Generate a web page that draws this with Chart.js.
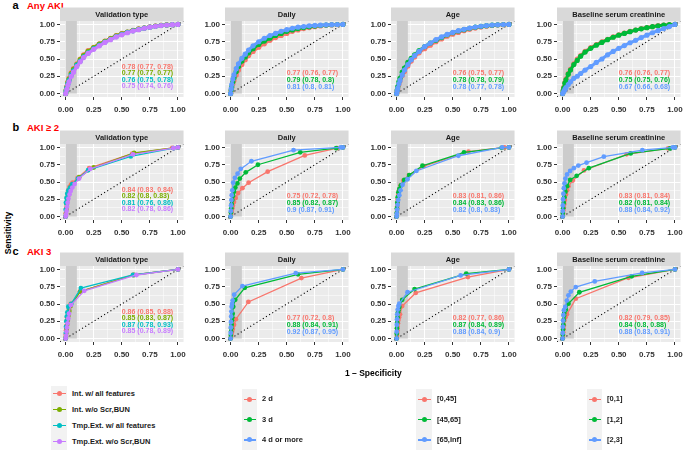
<!DOCTYPE html>
<html lang="en">
<head>
<meta charset="UTF-8">
<title>ROC curves by AKI stage</title>
<script src="https://cdn.jsdelivr.net/npm/chart.js"></script>
<style>
    html, body {
        margin: 0;
        padding: 0;
        width: 684px;
        height: 450px;
        overflow: hidden;
        position: relative;
        background: #fff;
        font-family: "Liberation Sans", Arial, sans-serif;
    }
    canvas { position: absolute; }
    .lbl {
        position: absolute;
        font-weight: bold;
        white-space: nowrap;
        line-height: 1;
        transform: translateY(-50%);
    }
    .tag { font-size: 11px; color: #000; }
    .row { font-size: 9.5px; color: #FF0000; }
    .axt { font-size: 8.5px; color: #000; }
    .keybox { position: absolute; background: #F2F2F2; }
    .keyline { position: absolute; height: 1.4px; }
    .keydot { position: absolute; width: 5px; height: 5px; border-radius: 50%; }
    .ltext { font-size: 7.5px; color: #1A1A1A; }
</style>
</head>
<body>
<script>
const rowTags = ['a', 'b', 'c'];
const rowTitles = ['Any AKI', 'AKI \u2265 2', 'AKI 3'];
const panelTitles = ['Validation type', 'Daily', 'Age', 'Baseline serum creatinine'];
const hue4 = ['#F8766D', '#7CAE00', '#00BFC4', '#C77CFF'];
const hue3 = ['#F8766D', '#00BA38', '#619CFF'];
const tickVals = [0, 0.125, 0.25, 0.375, 0.5, 0.625, 0.75, 0.875, 1];

const legendVal = ['Int. w/ all features', 'Int. w/o Scr,BUN', 'Tmp.Ext. w/ all features', 'Tmp.Ext. w/o Scr,BUN'];
const legendDaily = ['2 d', '3 d', '4 d or more'];
const legendAge = ['[0,45]', '[45,65]', '[65,Inf]'];
const legendBsc = ['[0,1]', '[1,2]', '[2,3]'];

// AUC (95% CI) labels per panel
const aucAny = [
    ['0.78 (0.77, 0.78)', '0.77 (0.77, 0.77)', '0.76 (0.75, 0.78)', '0.75 (0.74, 0.76)'],
    ['0.77 (0.76, 0.77)', '0.79 (0.78, 0.8)', '0.81 (0.8, 0.81)'],
    ['0.76 (0.75, 0.77)', '0.78 (0.78, 0.79)', '0.78 (0.77, 0.78)'],
    ['0.76 (0.76, 0.77)', '0.75 (0.75, 0.76)', '0.67 (0.66, 0.68)']
];
const aucGe2 = [
    ['0.84 (0.83, 0.84)', '0.82 (0.8, 0.83)', '0.81 (0.76, 0.86)', '0.82 (0.78, 0.86)'],
    ['0.75 (0.72, 0.78)', '0.85 (0.82, 0.87)', '0.9 (0.87, 0.91)'],
    ['0.83 (0.81, 0.86)', '0.84 (0.83, 0.86)', '0.82 (0.8, 0.83)'],
    ['0.83 (0.81, 0.84)', '0.82 (0.81, 0.84)', '0.88 (0.84, 0.92)']
];
const aucAki3 = [
    ['0.86 (0.85, 0.88)', '0.85 (0.83, 0.87)', '0.87 (0.78, 0.93)', '0.85 (0.78, 0.89)'],
    ['0.77 (0.72, 0.8)', '0.88 (0.84, 0.91)', '0.92 (0.87, 0.95)'],
    ['0.82 (0.77, 0.86)', '0.87 (0.84, 0.89)', '0.88 (0.84, 0.9)'],
    ['0.82 (0.79, 0.85)', '0.84 (0.8, 0.88)', '0.88 (0.83, 0.91)']
];

// ROC points [1 - specificity, sensitivity]
const anyVal = [
    [[0,0],[0.005,0.05],[0.01,0.1],[0.02,0.17],[0.03,0.22],[0.05,0.3],[0.07,0.36],[0.1,0.43],[0.13,0.5],[0.16,0.56],[0.2,0.62],[0.25,0.67],[0.3,0.72],[0.35,0.76],[0.4,0.8],[0.45,0.84],[0.5,0.87],[0.55,0.89],[0.6,0.915],[0.65,0.935],[0.7,0.95],[0.75,0.965],[0.8,0.977],[0.85,0.987],[0.9,0.993],[0.95,0.998],[1,1]],
    [[0,0],[0.005,0.045],[0.01,0.09],[0.02,0.16],[0.03,0.21],[0.05,0.29],[0.07,0.35],[0.1,0.42],[0.13,0.49],[0.16,0.55],[0.2,0.61],[0.25,0.665],[0.3,0.715],[0.35,0.755],[0.4,0.795],[0.45,0.835],[0.5,0.865],[0.55,0.89],[0.6,0.912],[0.65,0.932],[0.7,0.948],[0.75,0.963],[0.8,0.976],[0.85,0.986],[0.9,0.993],[0.95,0.998],[1,1]],
    [[0,0],[0.005,0.04],[0.01,0.08],[0.02,0.14],[0.03,0.19],[0.05,0.27],[0.07,0.33],[0.1,0.41],[0.13,0.47],[0.16,0.53],[0.2,0.59],[0.25,0.65],[0.3,0.7],[0.35,0.745],[0.4,0.785],[0.45,0.825],[0.5,0.857],[0.55,0.885],[0.6,0.908],[0.65,0.928],[0.7,0.946],[0.75,0.961],[0.8,0.974],[0.85,0.985],[0.9,0.992],[0.95,0.997],[1,1]],
    [[0,0],[0.01,0.06],[0.02,0.12],[0.03,0.17],[0.05,0.25],[0.07,0.31],[0.1,0.39],[0.13,0.46],[0.16,0.52],[0.2,0.58],[0.25,0.64],[0.3,0.69],[0.35,0.74],[0.4,0.78],[0.45,0.82],[0.5,0.85],[0.55,0.88],[0.6,0.905],[0.65,0.925],[0.7,0.945],[0.75,0.96],[0.8,0.973],[0.85,0.984],[0.9,0.992],[0.95,0.997],[1,1]]
];
const anyDaily = [
    [[0,0],[0.005,0.04],[0.01,0.08],[0.02,0.14],[0.03,0.19],[0.05,0.27],[0.07,0.34],[0.1,0.42],[0.13,0.49],[0.16,0.55],[0.2,0.61],[0.25,0.67],[0.3,0.72],[0.35,0.77],[0.4,0.81],[0.45,0.84],[0.5,0.87],[0.55,0.9],[0.6,0.92],[0.65,0.94],[0.7,0.955],[0.75,0.967],[0.8,0.978],[0.85,0.987],[0.9,0.993],[0.95,0.998],[1,1]],
    [[0,0],[0.005,0.05],[0.01,0.1],[0.02,0.17],[0.03,0.23],[0.05,0.32],[0.07,0.39],[0.1,0.47],[0.13,0.53],[0.16,0.59],[0.2,0.65],[0.25,0.71],[0.3,0.76],[0.35,0.8],[0.4,0.84],[0.45,0.87],[0.5,0.9],[0.55,0.92],[0.6,0.94],[0.65,0.955],[0.7,0.967],[0.75,0.977],[0.8,0.985],[0.85,0.991],[0.9,0.996],[0.95,0.999],[1,1]],
    [[0,0],[0.005,0.07],[0.01,0.13],[0.02,0.21],[0.03,0.27],[0.05,0.36],[0.07,0.43],[0.1,0.51],[0.13,0.57],[0.16,0.63],[0.2,0.69],[0.25,0.75],[0.3,0.8],[0.35,0.84],[0.4,0.87],[0.45,0.9],[0.5,0.925],[0.55,0.945],[0.6,0.96],[0.65,0.97],[0.7,0.98],[0.75,0.986],[0.8,0.99],[0.85,0.994],[0.9,0.997],[0.95,0.999],[1,1]]
];
const anyAge = [
    [[0,0],[0.005,0.035],[0.01,0.07],[0.02,0.13],[0.03,0.18],[0.05,0.26],[0.07,0.32],[0.1,0.4],[0.13,0.47],[0.16,0.53],[0.2,0.59],[0.25,0.65],[0.3,0.7],[0.35,0.75],[0.4,0.79],[0.45,0.83],[0.5,0.86],[0.55,0.885],[0.6,0.91],[0.65,0.93],[0.7,0.947],[0.75,0.962],[0.8,0.975],[0.85,0.985],[0.9,0.992],[0.95,0.997],[1,1]],
    [[0,0],[0.005,0.05],[0.01,0.1],[0.02,0.17],[0.03,0.22],[0.05,0.31],[0.07,0.37],[0.1,0.45],[0.13,0.51],[0.16,0.56],[0.2,0.62],[0.25,0.68],[0.3,0.73],[0.35,0.77],[0.4,0.81],[0.45,0.85],[0.5,0.88],[0.55,0.905],[0.6,0.925],[0.65,0.945],[0.7,0.96],[0.75,0.972],[0.8,0.982],[0.85,0.99],[0.9,0.995],[0.95,0.998],[1,1]],
    [[0,0],[0.005,0.04],[0.01,0.08],[0.02,0.14],[0.03,0.19],[0.05,0.27],[0.07,0.34],[0.1,0.42],[0.13,0.49],[0.16,0.55],[0.2,0.61],[0.25,0.68],[0.3,0.73],[0.35,0.78],[0.4,0.82],[0.45,0.855],[0.5,0.885],[0.55,0.91],[0.6,0.93],[0.65,0.948],[0.7,0.962],[0.75,0.974],[0.8,0.984],[0.85,0.991],[0.9,0.996],[0.95,0.999],[1,1]]
];
const anyBsc = [
    [[0,0],[0.005,0.045],[0.01,0.09],[0.02,0.16],[0.03,0.21],[0.05,0.29],[0.07,0.35],[0.1,0.43],[0.13,0.5],[0.16,0.55],[0.2,0.61],[0.25,0.665],[0.3,0.71],[0.35,0.75],[0.4,0.785],[0.45,0.82],[0.5,0.85],[0.55,0.875],[0.6,0.9],[0.65,0.92],[0.7,0.94],[0.75,0.955],[0.8,0.97],[0.85,0.982],[0.9,0.991],[0.95,0.997],[1,1]],
    [[0,0],[0.005,0.04],[0.01,0.08],[0.02,0.15],[0.03,0.2],[0.05,0.28],[0.07,0.34],[0.1,0.42],[0.13,0.48],[0.16,0.54],[0.2,0.6],[0.25,0.655],[0.3,0.7],[0.35,0.74],[0.4,0.78],[0.45,0.815],[0.5,0.845],[0.55,0.87],[0.6,0.895],[0.65,0.918],[0.7,0.937],[0.75,0.953],[0.8,0.968],[0.85,0.98],[0.9,0.99],[0.95,0.997],[1,1]],
    [[0,0],[0.01,0.03],[0.02,0.06],[0.03,0.085],[0.05,0.13],[0.07,0.17],[0.1,0.22],[0.13,0.25],[0.16,0.29],[0.2,0.34],[0.25,0.39],[0.3,0.45],[0.35,0.5],[0.4,0.56],[0.45,0.61],[0.5,0.655],[0.55,0.695],[0.6,0.735],[0.65,0.77],[0.7,0.81],[0.75,0.845],[0.8,0.88],[0.85,0.91],[0.9,0.94],[0.95,0.97],[1,1]]
];

const ge2Val = [
    [[0,0],[0.002,0.05],[0.005,0.12],[0.008,0.2],[0.012,0.27],[0.018,0.33],[0.025,0.38],[0.035,0.43],[0.048,0.46],[0.062,0.49],[0.107,0.56],[0.21,0.7],[0.593,0.91],[0.95,0.995],[1,1]],
    [[0,0],[0.003,0.04],[0.006,0.1],[0.01,0.17],[0.015,0.24],[0.022,0.3],[0.03,0.35],[0.04,0.4],[0.055,0.45],[0.12,0.57],[0.25,0.71],[0.61,0.92],[1,1]],
    [[0,0],[0.001,0.1],[0.003,0.2],[0.008,0.27],[0.015,0.33],[0.025,0.38],[0.04,0.42],[0.06,0.47],[0.11,0.55],[0.2,0.67],[0.58,0.87],[0.96,0.99],[1,1]],
    [[0,0],[0.004,0.03],[0.008,0.08],[0.012,0.14],[0.018,0.2],[0.025,0.26],[0.035,0.32],[0.045,0.37],[0.06,0.42],[0.08,0.47],[0.12,0.55],[0.22,0.69],[0.6,0.9],[0.96,0.99],[1,1]]
];
const ge2Daily = [
    [[0,0],[0.005,0.04],[0.01,0.08],[0.015,0.12],[0.02,0.16],[0.03,0.21],[0.045,0.27],[0.067,0.34],[0.105,0.41],[0.16,0.49],[0.33,0.65],[0.66,0.885],[0.95,0.99],[1,1]],
    [[0,0],[0.003,0.06],[0.006,0.12],[0.01,0.18],[0.015,0.24],[0.022,0.3],[0.03,0.36],[0.042,0.42],[0.06,0.48],[0.082,0.55],[0.135,0.64],[0.243,0.75],[0.62,0.93],[0.94,0.99],[1,1]],
    [[0,0],[0.002,0.08],[0.004,0.16],[0.007,0.24],[0.01,0.31],[0.015,0.38],[0.023,0.49],[0.038,0.56],[0.062,0.62],[0.09,0.69],[0.185,0.8],[0.56,0.96],[0.98,1],[1,1]]
];
const ge2Age = [
    [[0,0],[0.002,0.05],[0.004,0.1],[0.006,0.15],[0.008,0.2],[0.01,0.25],[0.015,0.32],[0.022,0.38],[0.035,0.45],[0.06,0.52],[0.11,0.6],[0.244,0.73],[0.64,0.94],[0.96,1],[1,1]],
    [[0,0],[0.001,0.05],[0.003,0.12],[0.006,0.2],[0.01,0.28],[0.016,0.35],[0.025,0.4],[0.038,0.45],[0.068,0.53],[0.112,0.6],[0.23,0.735],[0.6,0.93],[0.935,0.995],[1,1]],
    [[0,0],[0.002,0.04],[0.005,0.1],[0.009,0.17],[0.014,0.24],[0.024,0.31],[0.035,0.38],[0.053,0.46],[0.097,0.54],[0.176,0.66],[0.55,0.88],[0.94,1],[1,1]]
];
const ge2Bsc = [
    [[0,0],[0.003,0.04],[0.006,0.09],[0.01,0.13],[0.015,0.18],[0.02,0.24],[0.03,0.32],[0.04,0.38],[0.052,0.44],[0.09,0.52],[0.19,0.667],[0.57,0.9],[0.94,0.986],[1,1]],
    [[0,0],[0.002,0.05],[0.005,0.12],[0.01,0.2],[0.016,0.28],[0.025,0.36],[0.04,0.44],[0.067,0.53],[0.125,0.59],[0.233,0.7],[0.606,0.914],[0.956,0.986],[1,1]],
    [[0,0],[0.001,0.08],[0.002,0.16],[0.004,0.25],[0.007,0.33],[0.011,0.41],[0.017,0.48],[0.025,0.55],[0.04,0.61],[0.067,0.66],[0.1,0.7],[0.14,0.738],[0.213,0.78],[0.367,0.867],[0.71,0.96],[0.98,1],[1,1]]
];

const aki3Val = [
    [[0,0],[0.002,0.06],[0.004,0.12],[0.006,0.18],[0.009,0.25],[0.013,0.31],[0.02,0.37],[0.03,0.43],[0.045,0.5],[0.127,0.68],[0.6,0.92],[1,1]],
    [[0,0],[0.003,0.03],[0.006,0.08],[0.01,0.14],[0.014,0.2],[0.018,0.26],[0.025,0.33],[0.033,0.4],[0.045,0.47],[0.13,0.68],[0.61,0.92],[1,1]],
    [[0,0],[0.002,0.08],[0.004,0.17],[0.007,0.25],[0.011,0.32],[0.016,0.38],[0.024,0.46],[0.05,0.5],[0.136,0.73],[0.6,0.92],[1,1]],
    [[0,0],[0.004,0.04],[0.008,0.1],[0.012,0.16],[0.017,0.22],[0.024,0.29],[0.03,0.36],[0.047,0.485],[0.166,0.69],[0.63,0.92],[1,1]]
];
const aki3Daily = [
    [[0,0],[0.004,0.03],[0.008,0.07],[0.013,0.1],[0.02,0.14],[0.03,0.2],[0.047,0.28],[0.158,0.53],[0.63,0.875],[1,1]],
    [[0,0],[0.002,0.05],[0.004,0.1],[0.006,0.15],[0.009,0.2],[0.012,0.26],[0.015,0.31],[0.018,0.36],[0.023,0.46],[0.041,0.56],[0.126,0.735],[0.6,0.93],[1,1]],
    [[0,0],[0.001,0.08],[0.002,0.16],[0.003,0.24],[0.005,0.32],[0.007,0.39],[0.009,0.46],[0.013,0.5],[0.018,0.55],[0.032,0.635],[0.105,0.76],[0.58,0.947],[1,1]]
];
const aki3Age = [
    [[0,0],[0.003,0.04],[0.005,0.08],[0.007,0.12],[0.009,0.17],[0.012,0.22],[0.016,0.27],[0.022,0.31],[0.03,0.35],[0.05,0.47],[0.17,0.66],[0.635,0.89],[1,1]],
    [[0,0],[0.001,0.07],[0.003,0.15],[0.005,0.23],[0.008,0.31],[0.012,0.38],[0.016,0.41],[0.024,0.457],[0.05,0.56],[0.16,0.716],[0.62,0.94],[1,1]],
    [[0,0],[0.001,0.1],[0.002,0.2],[0.004,0.28],[0.006,0.35],[0.01,0.42],[0.016,0.47],[0.024,0.505],[0.097,0.67],[0.57,0.913],[1,1]]
];
const aki3Bsc = [
    [[0,0],[0.003,0.04],[0.005,0.09],[0.008,0.14],[0.011,0.19],[0.015,0.26],[0.025,0.31],[0.038,0.35],[0.117,0.577],[0.586,0.88],[1,1]],
    [[0,0],[0.002,0.06],[0.004,0.13],[0.007,0.2],[0.01,0.27],[0.013,0.33],[0.015,0.37],[0.029,0.418],[0.052,0.505],[0.149,0.67],[0.615,0.9],[1,1]],
    [[0,0],[0.001,0.08],[0.002,0.17],[0.004,0.26],[0.007,0.34],[0.012,0.41],[0.023,0.457],[0.038,0.55],[0.052,0.625],[0.073,0.68],[0.117,0.745],[0.286,0.827],[0.708,0.95],[1,1]]
];

const curves = [
    [anyVal, anyDaily, anyAge, anyBsc],
    [ge2Val, ge2Daily, ge2Age, ge2Bsc],
    [aki3Val, aki3Daily, aki3Age, aki3Bsc]
];
const aucs = [aucAny, aucGe2, aucAki3];

// layout (px)
const plotLeft = [60, 225, 391, 557];
const plotTop = [21, 144, 266];
const FONT = '"Liberation Sans", Arial, sans-serif';
Chart.defaults.font.family = FONT;

const isMajor = v => Math.abs(v * 4 - Math.round(v * 4)) < 1e-6;

const panelDeco = {
    id: 'panelDeco',
    beforeDraw(chart, args, opts) {
        const { ctx, chartArea: a } = chart;
        ctx.save();
        ctx.fillStyle = '#EBEBEB';
        ctx.fillRect(a.left, a.top, a.right - a.left, a.bottom - a.top);
        ctx.fillStyle = '#D9D9D9';
        ctx.fillRect(a.left, a.top - 13.5, a.right - a.left, 13.5);
        ctx.fillStyle = '#1A1A1A';
        ctx.font = 'bold 7.5px ' + FONT;
        ctx.textAlign = 'center';
        ctx.textBaseline = 'middle';
        ctx.fillText(opts.title, (a.left + a.right) / 2, a.top - 6.5);
        ctx.restore();
    },
    beforeDatasetsDraw(chart) {
        const { ctx, scales: { x, y } } = chart;
        ctx.save();
        ctx.fillStyle = '#CCCCCC';
        const x0 = x.getPixelForValue(0), x1 = x.getPixelForValue(0.1);
        const y0 = y.getPixelForValue(0), y1 = y.getPixelForValue(1.05);
        ctx.fillRect(x0, y1, x1 - x0, y0 - y1);
        ctx.restore();
    },
    afterDatasetsDraw(chart, args, opts) {
        const { ctx, scales: { x, y } } = chart;
        const ys = opts.labels.length === 4 ? [0.38, 0.29, 0.2, 0.11] : [0.29, 0.195, 0.1];
        ctx.save();
        ctx.font = 'bold 7px ' + FONT;
        ctx.textAlign = 'left';
        ctx.textBaseline = 'middle';
        opts.labels.forEach((t, i) => {
            ctx.fillStyle = opts.colors[i];
            ctx.fillText(t, x.getPixelForValue(0.5), y.getPixelForValue(ys[i]));
        });
        ctx.restore();
    }
};

function axis(fit, pad) {
    return {
        type: 'linear',
        min: -0.05,
        max: 1.05,
        afterBuildTicks: s => { s.ticks = tickVals.map(v => ({ value: v })); },
        afterFit: fit,
        ticks: {
            autoSkip: false,
            maxRotation: 0,
            padding: pad,
            color: '#333333',
            font: { size: 8, weight: 'bold' },
            callback: v => isMajor(v) ? v.toFixed(2) : ''
        },
        grid: {
            color: '#FFFFFF',
            lineWidth: c => (c.tick && isMajor(c.tick.value)) ? 1 : 0.5,
            tickColor: c => (c.tick && isMajor(c.tick.value)) ? '#333333' : 'rgba(0,0,0,0)',
            tickLength: 3,
            tickWidth: 1
        },
        border: { display: false }
    };
}

function makePanel(r, c) {
    const cv = document.createElement('canvas');
    cv.width = 175;
    cv.height = 111;
    cv.style.left = (plotLeft[c] - 44) + 'px';
    cv.style.top = (plotTop[r] - 15) + 'px';
    document.body.appendChild(cv);
    const cols = c === 0 ? hue4 : hue3;
    const datasets = curves[r][c].map((pts, i) => ({
        data: pts.map(p => ({ x: p[0], y: p[1] })),
        showLine: true,
        borderColor: cols[i],
        backgroundColor: cols[i],
        borderWidth: r === 0 ? 3 : 1.3,
        pointRadius: r === 0 ? 2.6 : 2.4,
        pointBorderWidth: 0,
        pointHoverRadius: 0,
        order: -i
    }));
    datasets.push({
        data: [{ x: -0.05, y: -0.05 }, { x: 1.05, y: 1.05 }],
        showLine: true,
        borderColor: '#000000',
        borderWidth: 1.1,
        borderDash: [1.1, 2.6],
        pointRadius: 0,
        order: 10
    });
    new Chart(cv, {
        type: 'scatter',
        data: { datasets: datasets },
        options: {
            responsive: false,
            animation: false,
            events: [],
            layout: { padding: { left: 0, right: 6, top: 15, bottom: 0 } },
            plugins: {
                legend: { display: false },
                tooltip: { enabled: false },
                panelDeco: { title: panelTitles[c], labels: aucs[r][c], colors: cols }
            },
            scales: {
                x: axis(s => { s.height = 20; }, 5),
                y: axis(s => { s.width = 44; }, 2)
            }
        },
        plugins: [panelDeco]
    });
}

function addLabel(text, cls, left, top, extra) {
    const d = document.createElement('div');
    d.className = 'lbl ' + cls;
    d.textContent = text;
    d.style.left = left + 'px';
    d.style.top = top + 'px';
    if (extra) Object.assign(d.style, extra);
    document.body.appendChild(d);
    return d;
}

const tagTops = [5, 127, 251];
rowTags.forEach((t, r) => {
    addLabel(t, 'tag', 12.5, tagTops[r]);
    addLabel(rowTitles[r], 'row', 27, tagTops[r] + 1);
    for (let c = 0; c < 4; c++) makePanel(r, c);
});

addLabel('1 \u2013 Specificity', 'axt', 345, 373);
addLabel('Sensitivity', 'axt', 8, 233, { transform: 'translate(-50%, -50%) rotate(-90deg)' });

// legends
const legendCols = [
    { items: legendVal, colors: hue4, box: 51, w: 16, text: 72, top: 386, y0: 393.5, dy: 16.1 },
    { items: legendDaily, colors: hue3, box: 242, w: 15, text: 262, top: 389, y0: 399.3, dy: 20.3 },
    { items: legendAge, colors: hue3, box: 416, w: 16, text: 437, top: 389, y0: 399.3, dy: 20.3 },
    { items: legendBsc, colors: hue3, box: 587, w: 15, text: 607, top: 389, y0: 399.3, dy: 20.3 }
];
legendCols.forEach(col => {
    const b = document.createElement('div');
    b.className = 'keybox';
    Object.assign(b.style, { left: col.box + 'px', top: col.top + 'px', width: col.w + 'px', height: (450 - col.top) + 'px' });
    document.body.appendChild(b);
    col.items.forEach((t, i) => {
        const yc = col.y0 + col.dy * i;
        const ln = document.createElement('div');
        ln.className = 'keyline';
        Object.assign(ln.style, { left: (col.box + 1.5) + 'px', top: (yc - 0.7) + 'px', width: (col.w - 3) + 'px', background: col.colors[i] });
        document.body.appendChild(ln);
        const dt = document.createElement('div');
        dt.className = 'keydot';
        Object.assign(dt.style, { left: (col.box + col.w / 2 - 2.5) + 'px', top: (yc - 2.5) + 'px', background: col.colors[i] });
        document.body.appendChild(dt);
        addLabel(t, 'ltext', col.text, yc);
    });
});
</script>
</body>
</html>
